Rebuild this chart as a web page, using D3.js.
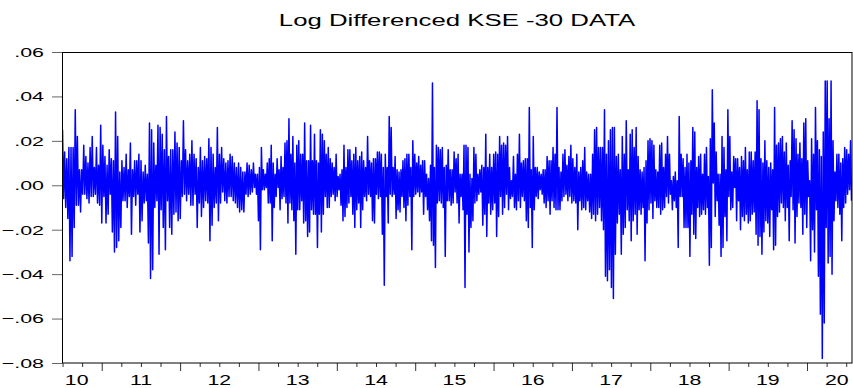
<!DOCTYPE html>
<html>
<head>
<meta charset="utf-8">
<script src="https://cdn.jsdelivr.net/npm/d3@7"></script>
<style>
  body { margin: 0; background: #fff; }
  svg { display: block; }
  text { font-family: "Liberation Sans", Arial, sans-serif; fill: #000; }
</style>
</head>
<body>
<svg id="chart" width="853" height="388"></svg>
<script>
const title = "Log Differenced KSE -30 DATA";

// y axis ticks and x axis year labels (label centres in fractional years)
const yTicks = [-0.08, -0.06, -0.04, -0.02, 0, 0.02, 0.04, 0.06];
const yearLabels = ["10", "11", "12", "13", "14", "15", "16", "17", "18", "19", "20"];
const yearLabelPos = [2010.68, 2011.5, 2012.5, 2013.5, 2014.5, 2015.5, 2016.5, 2017.5, 2018.5, 2019.5, 2020.38];

// sample period, in fractional years, and the four stretches the values below cover
const periodBreaks = [2010.493, 2012.956, 2015.44, 2017.99, 2020.574];

// log differenced KSE-30 (x 1000) as [high, low] swings
const ret2010 = [[25,-6],[15,-10],[12,-15],[17,-34],[17,-32],[17,-19],[34,-9],[22,-9],[7,-12],[7,-4],[18,-4],[13,-6],[10,-8],[17,-5],[22,-5],[8,-4],[17,-8],[9,-9],[27,-17],[18,-5],[13,-17],[9,-13],[16,-4],[12,-21],[11,-30],[33,-28],[22,-25],[6,-19],[11,-7],[8,-7],[14,-10],[7,-5],[19,-22],[7,-5],[11,-9],[11,-4],[14,-21],[11,-16],[6,-8],[9,-7],[5,-26],[28,-42],[25,-38],[19,-10],[9,-7],[27,-31],[26,-11],[23,-19],[16,-29],[31,-7],[13,-19],[16,-22],[16,-13],[24,-12],[19,-16],[17,-15],[11,-5],[29,-4],[16,-7],[11,-4],[14,-9],[20,-9],[14,-4],[12,-19],[8,-8],[17,-14],[11,-10],[13,-7],[12,-8],[21,-25],[17,-18],[14,-10],[8,-8],[26,-16],[14,-8],[17,-3],[12,-7],[10,-8],[11,-5],[14,-5],[13,-7],[10,-8],[8,-10],[10,-12],[8,-11],[6,-12],[6,-4],[10,-5],[9,-4],[7,-3],[10,-1]];

const ret2013 = [[5,-4],[5,-16],[8,-29],[17,-2],[7,-2],[5,-1],[10,-8],[12,-8],[18,-25],[10,-10],[5,-5],[12,-1],[7,-11],[13,-6],[8,-5],[19,-8],[20,-17],[30,-8],[14,-11],[22,-16],[10,-31],[18,-11],[20,-11],[14,-7],[14,-17],[28,-16],[11,-23],[11,-21],[27,-11],[11,-13],[23,-13],[11,-28],[10,-13],[25,-21],[23,-13],[20,-5],[14,-10],[17,-10],[12,-5],[10,-4],[8,-7],[14,-5],[4,-2],[5,-9],[7,-16],[18,-14],[8,-10],[16,-8],[16,-5],[11,-13],[14,-19],[17,-11],[11,-8],[13,-19],[15,-11],[11,-5],[8,-7],[22,-4],[11,-5],[10,-16],[12,-17],[12,-4],[15,-6],[15,-5],[14,-22],[8,-45],[14,-5],[8,-17],[31,-4],[26,-5],[8,-4],[13,-15],[7,-11],[6,-12],[7,-5],[11,-10],[12,-16],[14,-9],[14,-5],[8,-29],[20,-5],[14,-4],[10,-3],[13,-5],[9,-3],[11,-13],[11,-5],[5,-11],[3,-16],[9,-25],[46,-27],[8,-37],[18,-8],[17,-7],[16,-8],[17,-10],[8,-32],[9,-7],[16,-7]];

const ret2015 = [[7,-9],[7,-8],[15,-3],[12,-8],[14,-17],[5,-5],[5,-11],[18,-46],[18,-13],[17,-30],[5,-19],[3,-16],[17,-8],[14,-7],[5,-4],[7,-3],[9,-18],[8,-13],[23,-23],[8,-8],[14,-13],[8,-11],[14,-8],[15,-23],[14,-14],[22,-5],[18,-13],[19,-10],[18,-4],[22,-11],[8,-6],[2,-5],[13,-10],[5,-11],[14,-7],[23,-10],[10,-5],[11,-7],[12,-16],[12,-19],[35,-10],[7,-28],[22,-11],[8,-5],[8,-6],[6,-2],[5,-4],[7,-8],[7,-10],[13,-7],[11,-13],[11,-7],[17,-10],[14,-11],[35,-11],[8,-11],[6,-7],[14,-5],[16,-4],[9,-7],[13,-5],[18,-8],[12,-7],[8,-8],[14,-20],[6,-7],[8,-11],[11,-10],[17,-11],[6,-7],[5,-12],[5,-15],[14,-13],[25,-16],[26,-13],[17,-10],[17,-16],[17,-20],[34,-41],[14,-43],[20,-38],[25,-46],[26,-51],[26,-31],[13,-17],[14,-13],[7,-31],[22,-22],[14,-19],[29,-11],[7,-16],[23,-25],[25,-16],[17,-13],[26,-22],[13,-11],[7,-13],[6,-10],[8,-34],[11,-17],[20,-11]];

const ret2018 = [[21,-8],[20,-15],[18,-7],[7,-10],[6,-10],[18,-13],[19,-11],[8,-10],[14,-5],[22,-8],[14,-4],[2,-11],[4,-7],[6,-10],[2,-28],[31,-5],[14,-5],[12,-19],[8,-19],[14,-19],[10,-32],[11,-13],[26,-22],[24,-24],[8,-10],[13,-14],[14,-13],[5,-11],[14,-13],[17,-10],[4,-36],[21,-28],[43,1],[28,-14],[15,-7],[5,-18],[5,-32],[22,-28],[17,-14],[7,-25],[34,-5],[22,-11],[6,-10],[13,-1],[12,-16],[12,-7],[8,-20],[13,-14],[11,-16],[17,-13],[7,-17],[15,-16],[15,-13],[11,-12],[15,-22],[38,-27],[34,-23],[12,-31],[10,-21],[20,-16],[11,-17],[8,-23],[10,-11],[7,-29],[35,-27],[18,-14],[19,-12],[21,-8],[22,-10],[15,-16],[19,-10],[9,-25],[11,-5],[29,-11],[25,-26],[21,-14],[14,-8],[19,-10],[12,-22],[28,-13],[30,-19],[11,-5],[2,-34],[21,-20],[14,-30],[35,-11],[20,-41],[16,-58],[13,-78],[24,-62],[47,-19],[47,-35],[30,-32],[47,-40],[20,-16],[6,-7],[14,-10],[14,-13],[10,-25],[12,-10],[17,-8],[16,-4],[14,-2],[20,-7]];

const segments = [ret2010, ret2013, ret2015, ret2018];

// build the series: each stretch spread evenly over its own period
const series = [];
segments.forEach((seg, k) => {
  const t0 = periodBreaks[k], t1 = periodBreaks[k + 1];
  const vals = seg.flat();
  vals.forEach((v, i) => {
    series.push({ t: t0 + (t1 - t0) * (i + 0.5) / vals.length, v: v / 1000 });
  });
});

const svg = d3.select("#chart");
const margin = { top: 52, right: 1, bottom: 25, left: 62 };
const W = 853, H = 388;

const x = d3.scaleLinear()
  .domain([periodBreaks[0], periodBreaks[periodBreaks.length - 1]])
  .range([margin.left, W - margin.right]);

const y = d3.scaleLinear()
  .domain([-0.08, 0.06])
  .range([H - margin.bottom, margin.top]);

// title (EViews graph is stretched horizontally)
svg.append("text")
  .attr("transform", `translate(${(margin.left + W - margin.right) / 2},26) scale(1.58,1)`)
  .attr("text-anchor", "middle")
  .attr("font-size", 16.3)
  .text(title);

// series
svg.append("clipPath").attr("id", "clip")
  .append("rect")
  .attr("x", margin.left).attr("y", margin.top)
  .attr("width", W - margin.right - margin.left)
  .attr("height", H - margin.bottom - margin.top);

svg.append("path")
  .datum(series)
  .attr("clip-path", "url(#clip)")
  .attr("fill", "none")
  .attr("stroke", "#0000ff")
  .attr("stroke-width", 1.5)
  .attr("stroke-linejoin", "round")
  .attr("d", d3.line().x(d => x(d.t)).y(d => y(d.v)));

// y axis
const fmt = v => d3.format(".2f")(v).replace("0.", ".");
const yAxis = svg.append("g")
  .attr("transform", `translate(${margin.left},0)`)
  .call(d3.axisLeft(y).tickValues(yTicks).tickSize(10).tickFormat(fmt));
yAxis.select(".domain").remove();
yAxis.selectAll(".tick line").attr("stroke", "#666");
yAxis.selectAll(".tick text")
  .attr("x", null)
  .attr("dy", "0.34em")
  .attr("font-size", 13)
  .attr("font-family", null)
  .attr("transform", "translate(-18,0) scale(1.65,1)");

// x axis: quarterly ticks, longer at year boundaries
const quarters = d3.range(2010.5, 2020.51, 0.25);
const xAxis = svg.append("g")
  .attr("transform", `translate(0,${H - margin.bottom})`)
  .call(d3.axisBottom(x).tickValues(quarters).tickSize(4).tickFormat(""));
xAxis.select(".domain").remove();
xAxis.selectAll(".tick line")
  .attr("stroke", "#333")
  .attr("y2", d => Number.isInteger(d) ? 8 : 4);

svg.append("g").selectAll("text")
  .data(yearLabels)
  .join("text")
  .attr("transform", (d, i) => `translate(${x(yearLabelPos[i])},${H - 3}) scale(1.42,1)`)
  .attr("text-anchor", "middle")
  .attr("font-size", 15)
  .text(d => d);

// plot frame
svg.append("rect")
  .attr("x", margin.left + 0.5)
  .attr("y", margin.top + 0.5)
  .attr("width", W - margin.right - margin.left - 0.5)
  .attr("height", H - margin.bottom - margin.top - 0.5)
  .attr("fill", "none")
  .attr("stroke", "#000")
  .attr("stroke-width", 1);
</script>
</body>
</html>
